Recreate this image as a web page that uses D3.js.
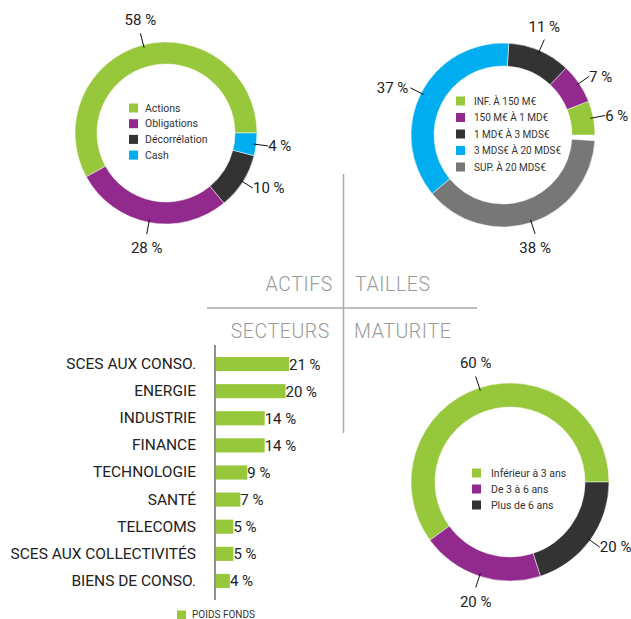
<!DOCTYPE html>
<html><head><meta charset="utf-8">
<script src="https://cdn.jsdelivr.net/npm/d3@7"></script>
<style>
html,body{margin:0;padding:0;background:#fff;}
svg{display:block;font-family:Roboto,"DejaVu Sans",sans-serif;}
</style></head>
<body>
<svg id="chart" width="631" height="619"></svg>
<script>
// ---- DATA ----
const actifsLabels = ["Actions","Obligations","Décorrélation","Cash"];
const actifsValues = [58,28,10,4];
const taillesLabels = ["INF. À 150 M€","150 M€ À 1 MD€","1 MD€ À 3 MDS€","3 MDS€ À 20 MDS€","SUP. À 20 MDS€"];
const taillesValues = [6,7,11,37,38];
const maturiteLabels = ["Inférieur à 3 ans","De 3 à 6 ans","Plus de 6 ans"];
const maturiteValues = [60,20,20];
const secteursLabels = ["SCES AUX CONSO.","ENERGIE","INDUSTRIE","FINANCE","TECHNOLOGIE","SANTÉ","TELECOMS","SCES AUX COLLECTIVITÉS","BIENS DE CONSO."];
const secteursValues = [21,20,14,14,9,7,5,5,4];
const quadrantTitles = ["ACTIFS","TAILLES","SECTEURS","MATURITE"];
const barLegend = "POIDS FONDS";

const colActifs = ["#97c73a","#922a8d","#333333","#00adef"];
const colTailles = ["#97c73a","#922a8d","#333333","#00adef","#777777"];
const colMaturite = ["#97c73a","#922a8d","#333333"];

const svg = d3.select("#chart");

function donut(cfg){
  const g = svg.append("g").attr("transform",`translate(${cfg.cx},${cfg.cy})`);
  const pie = d3.pie().sort(null).startAngle(Math.PI/2).endAngle(Math.PI/2 - 2*Math.PI*cfg.total/100);
  const arcs = pie(cfg.values);
  const arc = d3.arc().innerRadius(cfg.ri).outerRadius(cfg.ro);
  g.selectAll("path.seg").data(arcs).enter().append("path")
    .attr("d",arc).attr("fill",(d,i)=>cfg.colors[i]).attr("stroke","#fff").attr("stroke-width",0.5);
  // labels
  arcs.forEach((d,i)=>{
    const a=(d.startAngle+d.endAngle)/2;
    const s=Math.sin(a), c=-Math.cos(a);
    const r1=cfg.ro-3, r2=cfg.ro+12;
    g.append("line").attr("x1",r1*s).attr("y1",r1*c).attr("x2",r2*s).attr("y2",r2*c)
      .attr("stroke","#111").attr("stroke-width",1);
    let anchor="middle", tx=r2*s, ty=r2*c;
    if(Math.abs(s)>0.6){anchor = s>0?"start":"end"; tx += s>0?0:-2; ty += 5;}
    else { ty += c<0 ? -8 : 19; }
    g.append("text").attr("x",tx).attr("y",ty).attr("text-anchor",anchor)
      .attr("font-size",15).attr("fill","#222").text(cfg.values[i]+" %");
  });
  // legend
  const lg = svg.append("g").attr("transform",`translate(${cfg.lx},${cfg.ly})`);
  cfg.labels.forEach((t,i)=>{
    lg.append("rect").attr("x",0).attr("y",i*cfg.step-4.5).attr("width",9).attr("height",9).attr("fill",cfg.colors[i]);
    lg.append("text").attr("x",cfg.tdx).attr("y",i*cfg.step+3.5).attr("font-size",cfg.fs).attr("fill","#333").text(t);
  });
}

donut({cx:166,cy:133,ri:69,ro:91,values:actifsValues,labels:actifsLabels,colors:colActifs,total:100,
  lx:129,ly:108,step:15.7,tdx:16,fs:10.5});
donut({cx:503,cy:135,ri:69,ro:92,values:taillesValues,labels:taillesLabels,colors:colTailles,total:99,
  lx:456,ly:101,step:16.5,tdx:18,fs:10});
donut({cx:510,cy:482,ri:75,ro:99,values:maturiteValues,labels:maturiteLabels,colors:colMaturite,total:100,
  lx:472,ly:473,step:16,tdx:19,fs:10.5});

// quadrant separators
svg.append("line").attr("x1",343.5).attr("x2",343.5).attr("y1",174).attr("y2",433).attr("stroke","#aaa").attr("stroke-width",1.5);
svg.append("line").attr("x1",207).attr("x2",477).attr("y1",308).attr("y2",308).attr("stroke","#aaa").attr("stroke-width",1.5);
const qt = [{x:333,y:291,a:"end"},{x:355,y:291,a:"start"},{x:330,y:338,a:"end"},{x:354,y:338,a:"start"}];
quadrantTitles.forEach((t,i)=>{
  svg.append("text").attr("x",qt[i].x).attr("y",qt[i].y).attr("text-anchor",qt[i].a)
    .attr("font-size",19.5).attr("font-weight",300).attr("letter-spacing",0.6).attr("fill","#9a9a9a").text(t);
});

// bar chart
const x = d3.scaleLinear().domain([0,21]).range([216,289]);
const y = d3.scaleBand().domain(secteursLabels).range([350.5,594.5]).paddingInner(0.48).paddingOuter(0.24);
const bars = svg.append("g");
bars.selectAll("rect").data(secteursValues).enter().append("rect")
  .attr("x",x(0)).attr("y",(d,i)=>y(secteursLabels[i])).attr("width",d=>x(d)-x(0)).attr("height",y.bandwidth())
  .attr("fill","#97c73a");
bars.selectAll("text.v").data(secteursValues).enter().append("text")
  .attr("x",d=>x(d)).attr("y",(d,i)=>y(secteursLabels[i])+y.bandwidth()/2+5.5)
  .attr("font-size",15).attr("fill","#222").text(d=>d+" %");
const yAxis = d3.axisLeft(y).tickSize(0).tickPadding(19);
const ax = svg.append("g").attr("transform","translate(215,0)").call(yAxis);
ax.select(".domain").remove();
ax.selectAll("text").attr("font-size",15.5).attr("fill","#222").attr("font-family","Roboto,sans-serif");
svg.append("line").attr("x1",215).attr("x2",215).attr("y1",345).attr("y2",600).attr("stroke","#222").attr("stroke-width",1);

svg.append("rect").attr("x",177).attr("y",610.5).attr("width",9).attr("height",8.5).attr("fill","#97c73a");
svg.append("text").attr("x",192).attr("y",618).attr("font-size",10).attr("fill","#333").text(barLegend);
</script>
</body></html>
